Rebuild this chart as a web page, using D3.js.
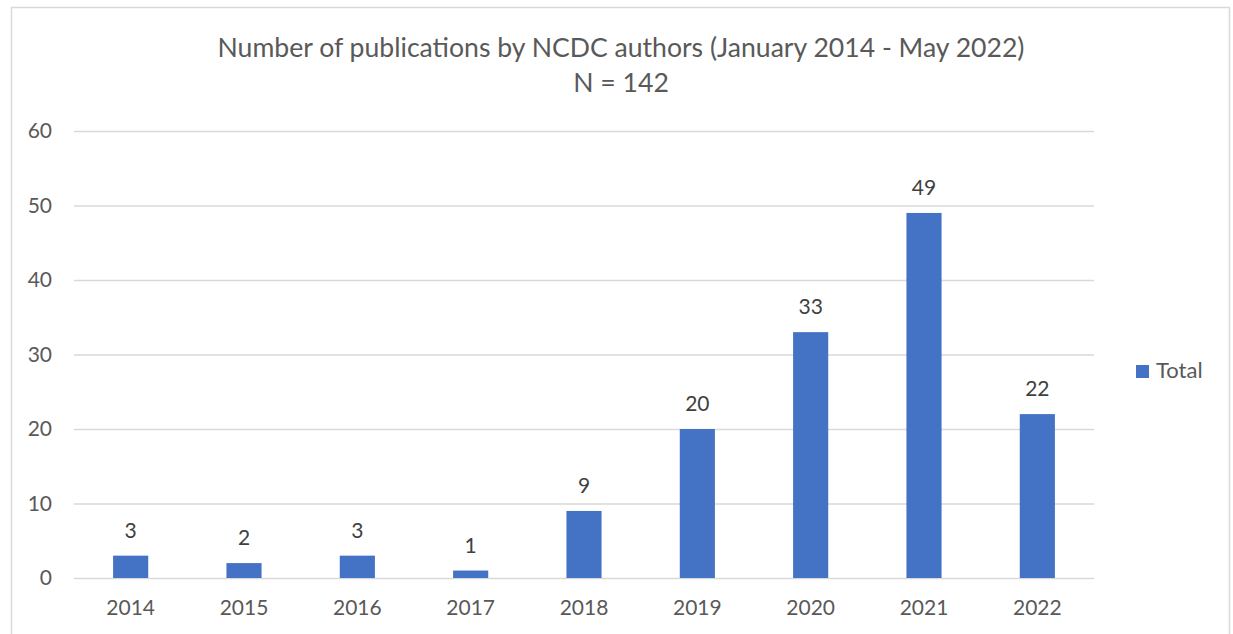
<!DOCTYPE html>
<html><head><meta charset="utf-8">
<script src="https://cdn.jsdelivr.net/npm/d3@7"></script>
<style>html,body{margin:0;padding:0;background:#fff;}svg{display:block;}</style>
</head><body>
<svg id="c" width="1233" height="634"></svg>
<script>
const years = ["2014","2015","2016","2017","2018","2019","2020","2021","2022"];
const totals = [3,2,3,1,9,20,33,49,22];
const yTicks = [0,10,20,30,40,50,60];
const titleLines = ["Number of publications by NCDC authors (January 2014 - May 2022)","N = 142"];
const seriesName = "Total";

const W=1233,H=634;
const FONT="Lato, 'Open Sans', sans-serif";
const TXT="#595959";
const svg=d3.select("#c");
svg.append("rect").attr("x",11.5).attr("y",7.5).attr("width",1218).attr("height",700)
  .attr("fill","#fff").attr("stroke","#d9d9d9").attr("stroke-width",1.5);

const m={l:74,r:1094,t:131,b:578};
const x=d3.scaleBand().domain(years).range([m.l,m.r]).padding(0);
const y=d3.scaleLinear().domain([0,60]).range([m.b,m.t]);

const g=svg.append("g");
const yAxis=d3.axisLeft(y).tickValues(yTicks).tickSize(-(m.r-m.l)).tickPadding(22);
const ya=g.append("g").attr("transform",`translate(${m.l},0)`).call(yAxis);
ya.select(".domain").remove();
ya.selectAll(".tick line").attr("stroke","#d9d9d9").attr("stroke-width",1.3);
ya.selectAll(".tick text").attr("fill",TXT).style("font-family",FONT).style("font-size","21px");

const xAxis=d3.axisBottom(x).tickSize(0).tickPadding(22);
const xa=g.append("g").attr("transform",`translate(0,${m.b})`).call(xAxis);
xa.select(".domain").remove();
xa.selectAll(".tick text").attr("fill",TXT).style("font-family",FONT).style("font-size","21px");

const bw=x.bandwidth()*0.31;
g.selectAll("rect.bar").data(totals).enter().append("rect").attr("class","bar")
  .attr("x",(d,i)=>x(years[i])+x.bandwidth()/2-bw/2)
  .attr("y",d=>y(d)).attr("width",bw).attr("height",d=>y(0)-y(d)).attr("fill","#4472C4");
g.selectAll("text.lbl").data(totals).enter().append("text").attr("class","lbl")
  .attr("x",(d,i)=>x(years[i])+x.bandwidth()/2).attr("y",d=>y(d)-18)
  .attr("text-anchor","middle").attr("fill","#404040").style("font-family",FONT).style("font-size","21px")
  .text(d=>d);

svg.selectAll("text.title").data(titleLines).enter().append("text").attr("class","title")
  .attr("x",621).attr("y",(d,i)=>57+i*35).attr("text-anchor","middle")
  .attr("fill",TXT).style("font-family",FONT).style("font-size","26.6px").text(d=>d);

const lg=svg.append("g").attr("transform","translate(1136,365)");
lg.append("rect").attr("width",13).attr("height",13).attr("fill","#4472C4");
lg.append("text").attr("x",20).attr("y",13).attr("fill",TXT).style("font-family",FONT).style("font-size","22px").text(seriesName);
</script>
</body></html>
